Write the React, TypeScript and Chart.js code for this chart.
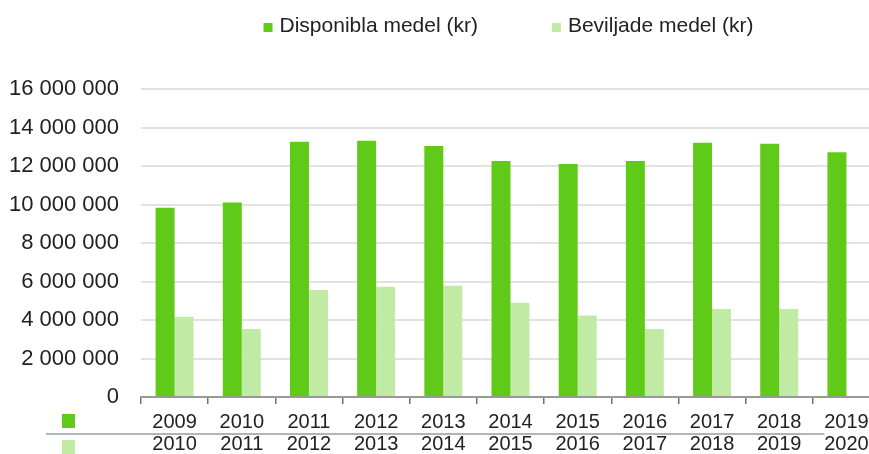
import React, { useEffect, useRef } from "react";
import { Chart, registerables } from "chart.js";

Chart.register(...registerables);

const periodStart = ["2009", "2010", "2011", "2012", "2013", "2014", "2015", "2016", "2017", "2018", "2019"];
const periodEnd = ["2010", "2011", "2012", "2013", "2014", "2015", "2016", "2017", "2018", "2019", "2020"];
const available = [9830000, 10110000, 13260000, 13310000, 13040000, 12260000, 12100000, 12260000, 13210000, 13160000, 12710000];
const granted = [4170000, 3530000, 5560000, 5730000, 5780000, 4900000, 4240000, 3530000, 4570000, 4570000, null];
const seriesNames = ["Disponibla medel (kr)", "Beviljade medel (kr)"];
const seriesColors = ["#5FCB18", "#C1EBA4"];

const FONT = '"Liberation Sans", Arial, sans-serif';
const TEXT = "#222222";

function fmt(v: number): string {
  return String(Math.round(v)).replace(/\B(?=(\d{3})+(?!\d))/g, " ");
}

const tablePlugin = {
  id: "legendAndTable",
  afterDraw(chart: any) {
    const { ctx, chartArea, scales } = chart;
    const xs = scales.x;
    ctx.save();

    // Legend at top
    ctx.font = `21px ${FONT}`;
    ctx.textBaseline = "alphabetic";
    ctx.textAlign = "left";
    const box = 9;
    const gapBT = 7;
    const gapItems = 74;
    const ds = chart.data.datasets;
    const widths = ds.map((d: any) => box + gapBT + ctx.measureText(d.label).width);
    const total = widths.reduce((a: number, b: number) => a + b, 0) + gapItems * (ds.length - 1);
    let cx = (chartArea.left + chartArea.right) / 2 - 2 - total / 2;
    ds.forEach((d: any, i: number) => {
      ctx.fillStyle = d.backgroundColor;
      ctx.fillRect(cx, 23, box, box);
      ctx.fillStyle = TEXT;
      ctx.fillText(d.label, cx + box + gapBT, 32);
      cx += widths[i] + gapItems;
    });

    // Data-table style labels below axis
    const b = chartArea.bottom;
    ctx.font = `20px ${FONT}`;
    ctx.textAlign = "center";
    ctx.fillStyle = TEXT;
    periodStart.forEach((s, i) => {
      const px = xs.getPixelForValue(i);
      ctx.fillText(s, px, b + 31);
      ctx.fillText(periodEnd[i], px, b + 53);
    });

    // separator line
    ctx.strokeStyle = "#b3b3b3";
    ctx.lineWidth = 2;
    ctx.beginPath();
    ctx.moveTo(46, b + 37);
    ctx.lineTo(xs.getPixelForValue(periodStart.length - 1) - 22, b + 37);
    ctx.stroke();

    // legend keys for table rows
    ctx.fillStyle = ds[0].backgroundColor;
    ctx.fillRect(62, b + 17, 13, 14);
    ctx.fillStyle = ds[1].backgroundColor;
    ctx.fillRect(62, b + 43, 13, 14);

    ctx.restore();
  },
};

export default function App() {
  const ref = useRef<HTMLCanvasElement | null>(null);

  useEffect(() => {
    if (!ref.current) return;
    const chart = new Chart(ref.current, {
      type: "bar",
      data: {
        labels: periodStart.map((s, i) => `${s}/${periodEnd[i]}`),
        datasets: [
          {
            label: seriesNames[0],
            data: available,
            backgroundColor: seriesColors[0],
            borderWidth: 0,
            categoryPercentage: 0.565,
            barPercentage: 1,
          },
          {
            label: seriesNames[1],
            data: granted as any,
            backgroundColor: seriesColors[1],
            borderWidth: 0,
            categoryPercentage: 0.565,
            barPercentage: 1,
          },
        ],
      },
      options: {
        responsive: false,
        animation: false,
        events: [],
        layout: { padding: { top: 89, bottom: 50, left: 0, right: 10 } },
        plugins: {
          legend: { display: false },
          tooltip: { enabled: false },
        },
        scales: {
          x: {
            ticks: { display: false },
            grid: {
              display: true,
              offset: true,
              drawOnChartArea: false,
              drawTicks: true,
              tickLength: 7,
              color: "#707070",
              lineWidth: 1.5,
            },
            border: { display: true, color: "#999999", width: 2 },
          },
          y: {
            min: 0,
            max: 16000000,
            afterFit: (scale: any) => {
              scale.width = 141;
            },
            ticks: {
              stepSize: 2000000,
              padding: 22,
              color: TEXT,
              font: { family: FONT, size: 22 },
              callback: (v: any) => fmt(Number(v)),
            },
            grid: { color: "#e2e2e2", lineWidth: 2, drawTicks: false },
            border: { display: false },
          },
        },
      },
      plugins: [tablePlugin],
    });
    return () => chart.destroy();
  }, []);

  return (
    <div
      style={{
        position: "fixed",
        left: 0,
        top: 0,
        width: 869,
        height: 454,
        overflow: "hidden",
        background: "#ffffff",
      }}
    >
      <canvas ref={ref} width={890} height={454} style={{ display: "block" }} />
    </div>
  );
}
